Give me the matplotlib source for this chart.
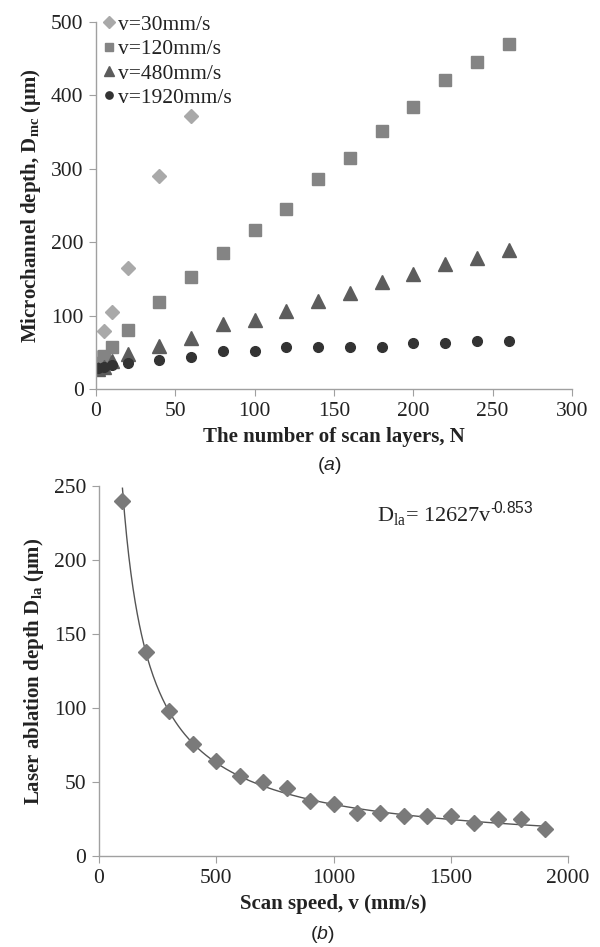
import matplotlib
matplotlib.use("Agg")
import matplotlib.pyplot as plt
import numpy as np

plt.rcParams['font.family'] = ['Liberation Serif', 'DejaVu Serif']
plt.rcParams['mathtext.fontset'] = 'custom'
plt.rcParams['mathtext.rm'] = 'Liberation Serif'
plt.rcParams['mathtext.it'] = 'Liberation Sans:italic'
plt.rcParams['mathtext.bf'] = 'Liberation Serif:bold'
plt.rcParams['mathtext.sf'] = 'Liberation Sans'

# ---- data (a) ----
N_30 = [1, 5, 10, 20, 40, 60]
D_30 = [43, 79, 105, 165, 290, 372]
N_120 = [1, 5, 10, 20, 40, 60, 80, 100, 120, 140, 160, 180, 200, 220, 240, 260]
D_120 = [35, 45, 57, 81, 118, 152, 185, 217, 245, 286, 315, 351, 384, 421, 446, 470]
N_480 = [1, 5, 10, 20, 40, 60, 80, 100, 120, 140, 160, 180, 200, 220, 240, 260]
D_480 = [27, 30, 38, 48, 58, 69, 88, 94, 106, 120, 131, 146, 157, 170, 178, 189]
N_1920 = [1, 5, 10, 20, 40, 60, 80, 100, 120, 140, 160, 180, 200, 220, 240, 260]
D_1920 = [28, 30, 33, 35, 39, 44, 52, 52, 57, 57, 57, 57, 62, 62, 66, 66]
labels_a = ['v=30mm/s', 'v=120mm/s', 'v=480mm/s', 'v=1920mm/s']

# ---- data (b) ----
v_b = [100, 200, 300, 400, 500, 600, 700, 800, 900, 1000,
       1100, 1200, 1300, 1400, 1500, 1600, 1700, 1800, 1900]
D_b = [240, 138, 98, 76, 64, 54, 50, 46, 37, 35,
       29, 29, 27, 27, 27, 22, 25, 25, 18]
fit_a, fit_b = 12627, -0.853

W, H = 600, 947
fig = plt.figure(figsize=(W / 100, H / 100), dpi=100)

def ax_rect(l, t, r, b):
    return [l / W, 1 - b / H, (r - l) / W, (b - t) / H]

spine_c = '#a0a0a0'
txt_c = '#222222'

def style(ax):
    for s in ['top', 'right']:
        ax.spines[s].set_visible(False)
    for s in ['left', 'bottom']:
        ax.spines[s].set_color(spine_c)
        ax.spines[s].set_linewidth(1.0)
    ax.tick_params(direction='out', length=5, color=spine_c, labelsize=15.5,
                   labelcolor=txt_c, pad=4)

# ---- (a) ----
ax1 = fig.add_axes(ax_rect(96, 22, 572, 389))
style(ax1)
ax1.plot(N_30, D_30, 'D', color='#a9a9a9', ms=7.5, mec='#a9a9a9', label=labels_a[0])
ax1.plot(N_120, D_120, 's', color='#848484', ms=8.5, label=labels_a[1])
ax1.plot(N_480, D_480, '^', color='#5c5c5c', ms=9.5, label=labels_a[2])
ax1.plot(N_1920, D_1920, 'o', color='#333333', ms=7, label=labels_a[3])
ax1.set_xlim(0, 300)
ax1.set_ylim(0, 500)
ax1.set_xticks(np.arange(0, 301, 50))
ax1.set_yticks(np.arange(0, 501, 100))
ax1.set_xlabel('The number of scan layers, N', fontsize=15, fontweight='bold',
               color=txt_c, labelpad=5)
ax1.set_ylabel(r'Microchannel depth, D$_{\mathbf{mc}}$ ($\mathbf{\mu}$m)', fontsize=15,
               fontweight='bold', color=txt_c, labelpad=6)
leg = ax1.legend(loc='upper left', bbox_to_anchor=(-0.012, 1.055), frameon=False,
                 fontsize=15.5, handlelength=0.5, handletextpad=0.2,
                 labelspacing=0.2, borderaxespad=0.2, markerscale=0.75)
for t in leg.get_texts():
    t.set_color(txt_c)
fig.text(329 / W, 1 - 465 / H, r'($\mathit{a}$)', fontsize=14, family=['Liberation Sans'],
         ha='center', va='center', color=txt_c)

# ---- (b) ----
ax2 = fig.add_axes(ax_rect(99, 486, 568, 856))
style(ax2)
vv = np.linspace(min(v_b), max(v_b), 400)
ax2.plot(vv, fit_a * vv ** fit_b, '-', color='#555555', lw=1.0)
ax2.plot(v_b, D_b, 'D', color='#7a7a7a', ms=8.5)
ax2.set_xlim(0, 2000)
ax2.set_ylim(0, 250)
ax2.set_xticks(np.arange(0, 2001, 500))
ax2.set_yticks(np.arange(0, 251, 50))
ax2.set_xlabel('Scan speed, v (mm/s)', fontsize=15, fontweight='bold',
               color=txt_c, labelpad=5)
ax2.set_ylabel(r'Laser ablation depth D$_{\mathbf{la}}$ ($\mathbf{\mu}$m)', fontsize=15,
               fontweight='bold', color=txt_c, labelpad=6)
ax2.text(1185, 231, 'D$_{\\mathrm{la}}$= 12627v$^{\\mathsf{\u2010\\!0.853}}$', fontsize=16,
         color=txt_c, ha='left', va='center')
fig.text(322 / W, 1 - 934 / H, r'($\mathit{b}$)', fontsize=14, family=['Liberation Sans'],
         ha='center', va='center', color=txt_c)

fig.savefig('out.png', dpi=100)
